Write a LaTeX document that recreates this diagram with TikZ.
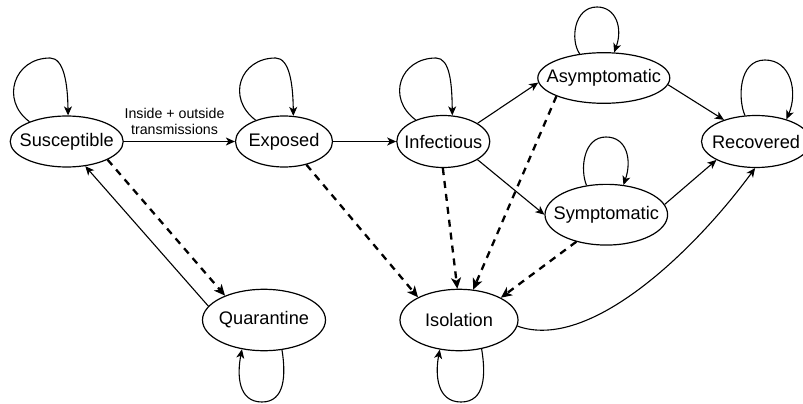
\documentclass[tikz,border=0pt]{standalone}
\usepackage{fontspec}
\setmainfont{Liberation Sans}
\usetikzlibrary{shapes.geometric,arrows.meta}
\tikzset{
  st/.style={ellipse, draw, line width=1.2pt, inner sep=0pt, font=\fontsize{18.2}{22}\selectfont},
  arr/.style={line width=1.1pt, -{Stealth[length=9pt,width=8pt,inset=2.5pt]}},
  darr/.style={line width=2.3pt, dash pattern=on 7pt off 6pt, -{Stealth[length=11pt,width=10pt,inset=3pt]}},
  lbl/.style={font=\fontsize{14.2}{16}\selectfont, align=center, inner sep=0pt}
}
\begin{document}
\begin{tikzpicture}[x=1pt,y=-1pt]
\useasboundingbox (0,0) rectangle (803,404);
\clip (0,0) rectangle (803,404);
\fill[white] (0,0) rectangle (803,404);

\node[st, minimum width=113pt, minimum height=51pt] (sus) at (66.7,141.5) {\makebox[0pt]{Susceptible}};
\node[st, minimum width=97pt, minimum height=51pt] (exp) at (284,141.5) {\makebox[0pt]{Exposed}};
\node[st, minimum width=93pt, minimum height=52pt] (inf) at (443.3,141.5) {\makebox[0pt]{Infectious}};
\node[st, minimum width=132pt, minimum height=50.6pt] (asy) at (603.8,78) {\makebox[0pt]{Asymptomatic}};
\node[st, minimum width=109pt, minimum height=52pt] (rec) at (756,141.5) {\makebox[0pt]{Recovered}};
\node[st, minimum width=122.6pt, minimum height=60.7pt] (sym) at (606.3,214.7) {\makebox[0pt]{Symptomatic}};
\node[st, minimum width=123pt, minimum height=61.4pt] (qua) at (264,320) {\makebox[0pt]{Quarantine}};
\node[st, minimum width=118pt, minimum height=61.4pt] (iso) at (459,320) {\makebox[0pt]{Isolation}};

\node[lbl] (tl) at (174.5,121) {Inside + outside\\transmissions};

% straight solid arrows
\draw[arr] (sus) -- (exp);
\draw[arr] (exp) -- (inf);
\draw[arr] (inf.28.4) -- (asy.184.1);
\draw[arr] (inf.-28.8) -- (sym.180);
\draw[arr] (asy.-6.2) -- (rec.146.7);
\draw[arr] (sym.10.7) -- (rec.205.2);
\draw[arr] (qua.166.6) -- (sus.-53.7);
\draw[arr] (iso.-6) .. controls (590,352) and (695,250) .. (rec.268.5);

% dashed arrows
\draw[darr] (sus.-24.8) -- (qua.148.4);
\draw[darr] (exp.-46) -- (iso.151.8);
\draw[darr] (inf.-91.3) -- (iso.93.1);
\draw[darr] (asy.201.7) -- (iso.65.9);
\draw[darr] (sym.222.4) -- (iso.28.6);

% self loops
\draw[arr] (sus.152.5) .. controls (0,100) and (14,58) .. (50,58)
  .. controls (64,58) and (67.7,84) .. (sus.87.8);
\draw[arr] (exp.143.4) .. controls (226,98) and (240,58) .. (275.5,58)
  .. controls (289.5,58) and (293,84) .. (exp.70.6);
\draw[arr] (inf.142.8) .. controls (386,98) and (400,58) .. (436,58)
  .. controls (450,58) and (452,84) .. (inf.71.8);
\draw[arr] (asy.135.9) .. controls (570,40) and (574,7) .. (597,7)
  .. controls (616,7) and (623,28) .. (asy.68.6);
\draw[arr] (sym.124) .. controls (580,170) and (583,137) .. (606,137)
  .. controls (627,137) and (632,160) .. (sym.60.2);
\draw[arr] (rec.113.3) .. controls (738,100) and (738,60) .. (765,60)
  .. controls (791,60) and (798,92) .. (rec.36.3);
\draw[arr] (qua.-59.5) .. controls (286,375) and (285,402) .. (262,402)
  .. controls (238,402) and (237,375) .. (qua.233.4);
\draw[arr] (iso.-52.9) .. controls (486,375) and (485,402) .. (461,402)
  .. controls (437,402) and (435,375) .. (iso.237.7);
\end{tikzpicture}
\end{document}
